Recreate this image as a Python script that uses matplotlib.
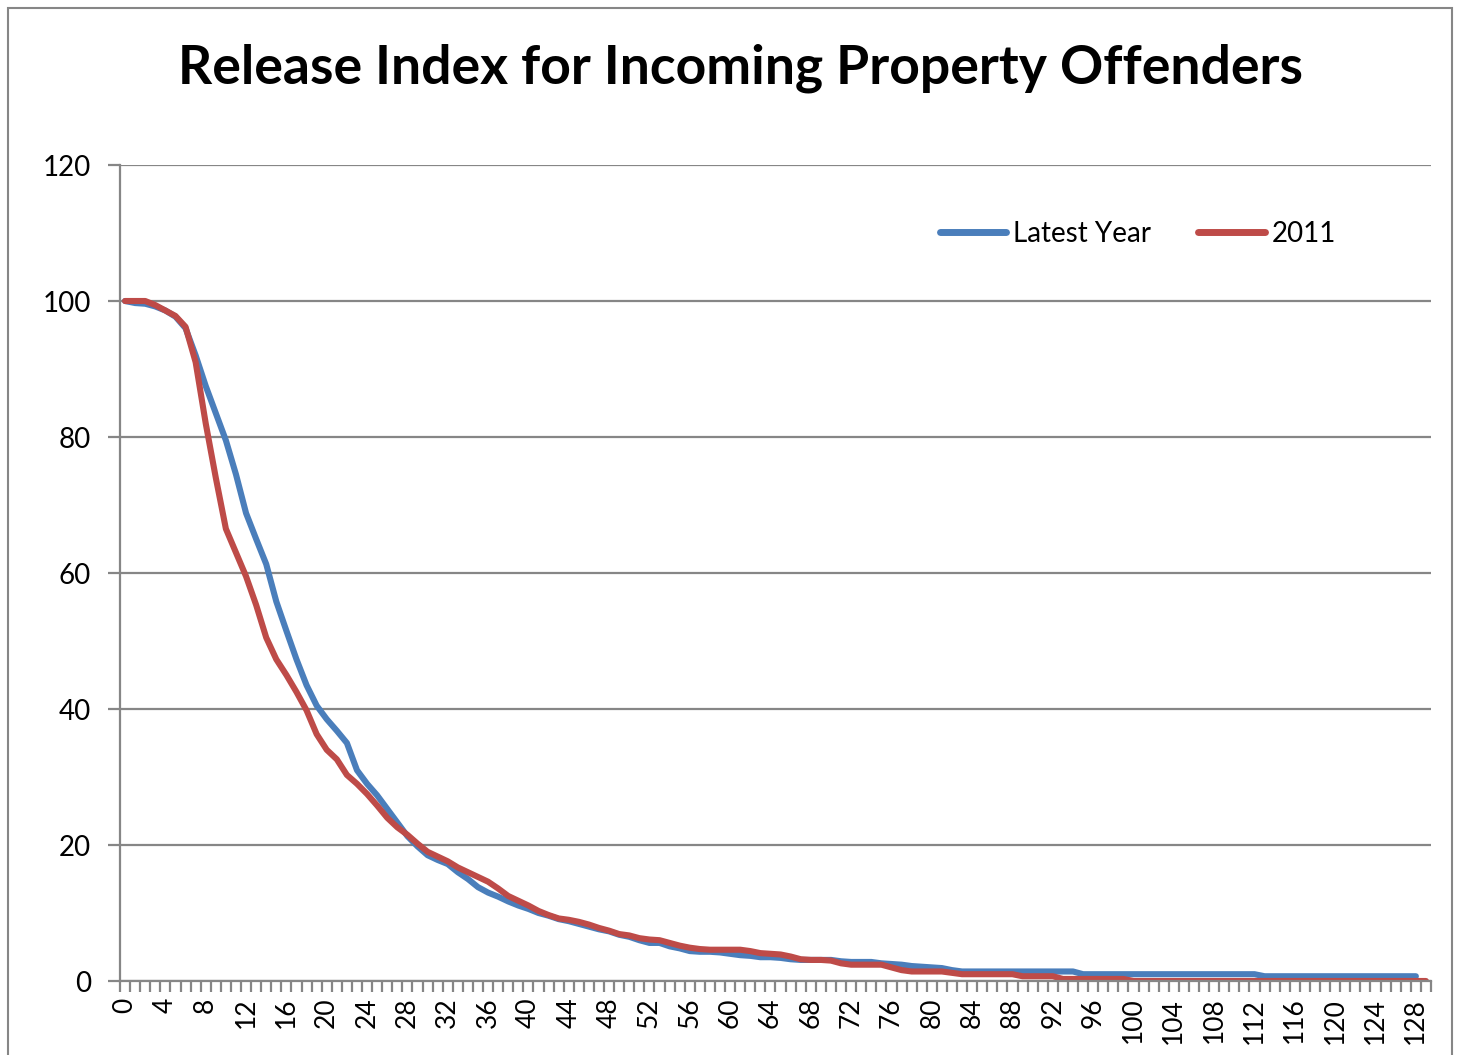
from matplotlib import pyplot as plt
from matplotlib.patches import Rectangle
import matplotlib
import numpy as np

# months since admission (categories 0..129)
latest_year = [100, 99.7, 99.6, 99.2, 98.6, 97.7, 96.0, 92.0, 87.5, 83.5,
               79.5, 74.5, 68.8, 65.0, 61.3, 55.8, 51.5, 47.3, 43.5, 40.5,
               38.5, 36.8, 35.0, 31.0, 29.0, 27.3, 25.3, 23.3, 21.3, 19.8,
               18.5, 17.8, 17.2, 16.0, 15.0, 13.8, 13.0, 12.4, 11.7, 11.1,
               10.6, 10.0, 9.6, 9.1, 8.8, 8.4, 8.0, 7.6, 7.3, 6.8,
               6.5, 6.0, 5.6, 5.6, 5.1, 4.8, 4.4, 4.3, 4.3, 4.2,
               4.0, 3.8, 3.7, 3.5, 3.5, 3.4, 3.2, 3.1, 3.1, 3.1,
               3.1, 2.9, 2.8, 2.8, 2.8, 2.6, 2.5, 2.4, 2.2, 2.1,
               2.0, 1.9, 1.6, 1.4, 1.4, 1.4, 1.4, 1.4, 1.4, 1.4,
               1.4, 1.4, 1.4, 1.4, 1.4, 1.0, 1.0, 1.0, 1.0, 1.0,
               1.0, 1.0, 1.0, 1.0, 1.0, 1.0, 1.0, 1.0, 1.0, 1.0,
               1.0, 1.0, 1.0, 0.7, 0.7, 0.7, 0.7, 0.7, 0.7, 0.7,
               0.7, 0.7, 0.7, 0.7, 0.7, 0.7, 0.7, 0.7, 0.7]

year_2011 = [100, 100, 100, 99.4, 98.6, 97.8, 96.2, 91.0, 82.0, 74.0,
             66.5, 63.0, 59.5, 55.3, 50.5, 47.3, 45.0, 42.5, 39.8, 36.3,
             34.0, 32.6, 30.3, 29.0, 27.5, 25.8, 24.0, 22.6, 21.5, 20.2,
             19.0, 18.3, 17.6, 16.7, 16.0, 15.3, 14.6, 13.6, 12.5, 11.8,
             11.1, 10.3, 9.7, 9.2, 9.0, 8.7, 8.3, 7.8, 7.4, 6.9,
             6.7, 6.3, 6.1, 6.0, 5.6, 5.2, 4.9, 4.7, 4.6, 4.6,
             4.6, 4.6, 4.4, 4.1, 4.0, 3.9, 3.6, 3.2, 3.1, 3.1,
             3.0, 2.6, 2.4, 2.4, 2.4, 2.4, 2.0, 1.6, 1.4, 1.4,
             1.4, 1.4, 1.2, 1.0, 1.0, 1.0, 1.0, 1.0, 1.0, 0.7,
             0.7, 0.7, 0.7, 0.3, 0.3, 0.3, 0.3, 0.3, 0.3, 0.3,
             0, 0, 0, 0, 0, 0, 0, 0, 0, 0,
             0, 0, 0, 0, 0, 0, 0, 0, 0, 0,
             0, 0, 0, 0, 0, 0, 0, 0, 0, 0]

x_labels = [str(i) for i in range(0, 129, 4)]
y_ticks = [0, 20, 40, 60, 80, 100, 120]

title = "Release Index for Incoming Property Offenders"
series_labels = ["Latest Year", "2011"]

W, H = 1462, 1055
grey = '#868686'

matplotlib.rc('font', family=['Lato', 'DejaVu Sans'])
fig = plt.figure(figsize=(W / 100, H / 100), dpi=100)

# chart area border (excel style)
fig.patches.append(Rectangle((8 / W, -0.01), (1452 - 8) / W, 1 - 8 / H + 0.01,
                             transform=fig.transFigure, fill=False,
                             edgecolor=grey, lw=1.5))

ax = fig.add_axes([120 / W, 1 - 981 / H, (1431 - 120) / W, (981 - 165) / H])

ax.plot(range(len(latest_year)), latest_year, color='#4A7EBB', lw=4.4,
        solid_capstyle='round', solid_joinstyle='round', label=series_labels[0])
ax.plot(range(len(year_2011)), year_2011, color='#BE4B48', lw=4.4,
        solid_capstyle='round', solid_joinstyle='round', label=series_labels[1])

n_cat = len(year_2011)
ax.set_xlim(-0.5, n_cat - 0.5)
ax.set_ylim(0, 120)

# y axis
ax.set_yticks(y_ticks)
ax.yaxis.grid(True, color=grey, lw=1.6)
ax.set_axisbelow(True)
ax.tick_params(axis='y', length=9, width=1.6, color=grey, labelsize=20, pad=12)

# x axis: labels on category centres, tick marks on boundaries
ax.set_xticks(range(0, 129, 4))
ax.set_xticklabels(x_labels, rotation=90)
ax.set_xticks(np.arange(-0.5, n_cat, 1), minor=True)
ax.tick_params(axis='x', which='major', length=0, labelsize=19, pad=12)
ax.tick_params(axis='x', which='minor', length=8, width=1.6, color=grey)

for s in ['top', 'right']:
    ax.spines[s].set_visible(False)
for s in ['left', 'bottom']:
    ax.spines[s].set_color(grey)
    ax.spines[s].set_linewidth(1.6)

fig.text(741 / W, 1 - 68 / H, title, ha='center', va='center',
         fontsize=38.5, fontweight='bold')

leg = ax.legend(loc='center', bbox_to_anchor=((1138 - 120) / 1311, (981 - 234) / 816),
                ncol=2, frameon=False, fontsize=20, handlelength=2.4,
                handletextpad=0.25, columnspacing=1.7)
for h in leg.get_lines():
    h.set_linewidth(5)

plt.savefig('out.png', dpi=100)
